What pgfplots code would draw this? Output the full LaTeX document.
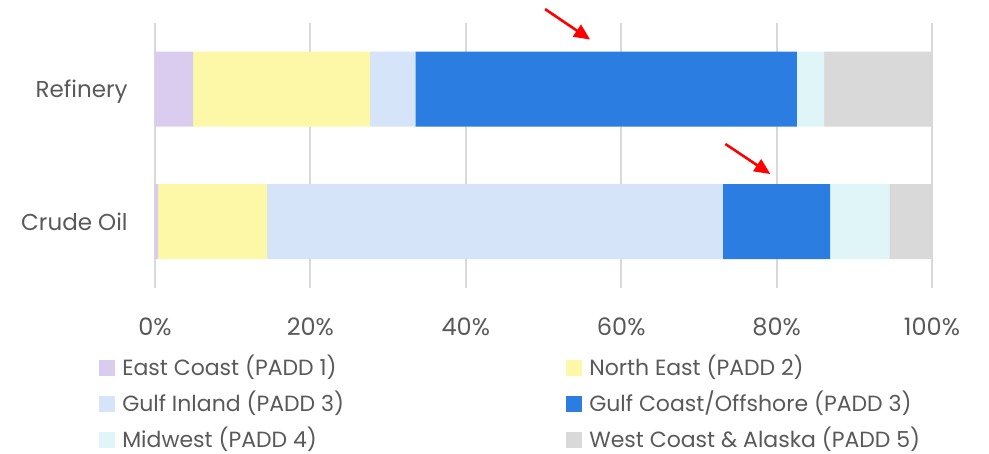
\documentclass[border=0pt]{standalone}
\usepackage{pgfplots}
\pgfplotsset{compat=1.18}
\usepackage{fontspec}
\setmainfont{Poppins}
\usetikzlibrary{arrows.meta}
\definecolor{txt}{RGB}{89,89,89}
\definecolor{grid}{RGB}{217,217,217}
\definecolor{cEC}{RGB}{217,204,238}
\definecolor{cNE}{RGB}{253,248,168}
\definecolor{cGI}{RGB}{213,228,248}
\definecolor{cGC}{RGB}{43,125,225}
\definecolor{cMW}{RGB}{223,245,247}
\definecolor{cWC}{RGB}{217,217,217}
\begin{document}
\begin{tikzpicture}
\begin{axis}[
  scale only axis, width=388.5pt, height=132.5pt,
  xbar stacked, bar width=37.5pt,
  xmin=0, xmax=100, ymin=-0.5, ymax=1.5,
  axis line style={draw=none},
  clip=false,
  xtick={0,20,40,60,80,100},
  ytick={0,1}, yticklabels={Crude Oil,Refinery},
  major tick length=0pt,
  xmajorgrids, ymajorgrids=false, major grid style={draw=grid, line width=1pt},
  /pgf/number format/assume math mode=true,
  xticklabel={\pgfmathprintnumber{\tick}\%},
  ticklabel style={font=\fontsize{12}{14}\selectfont, text=txt, inner sep=0pt},
  xticklabel style={anchor=north, yshift=-14.5pt},
  yticklabel style={anchor=east, xshift=-13.5pt, text height=8.3pt, text depth=0pt, font=\fontsize{11.5}{14}\selectfont},
  legend columns=2,
  legend cell align=left,
  legend image code/.code={\fill[#1] (0pt,-4pt) rectangle (8pt,4pt); \path (11.5pt,0pt);},
  legend style={draw=none, fill=none, inner sep=0pt, outer sep=0pt,
    at={(-0.0717,-0.272)}, anchor=north west,
    font=\fontsize{11}{13}\selectfont, text=txt,
    nodes={inner sep=0pt, text height=7.7pt, text depth=0pt},
    row sep=10pt, column sep=0pt},
]
\addplot[fill=cEC, draw=none] coordinates {(0.4,0) (4.9,1)};
\addlegendentry{\makebox[222pt][l]{East Coast (PADD 1)}}
\addplot[fill=cNE, draw=none] coordinates {(14.0,0) (22.8,1)};
\addlegendentry{North East (PADD 2)}
\addplot[fill=cGI, draw=none] coordinates {(58.7,0) (5.8,1)};
\addlegendentry{\makebox[222pt][l]{Gulf Inland (PADD 3)}}
\addplot[fill=cGC, draw=none] coordinates {(13.8,0) (49.1,1)};
\addlegendentry{Gulf Coast/Offshore (PADD 3)}
\addplot[fill=cMW, draw=none] coordinates {(7.6,0) (3.5,1)};
\addlegendentry{\makebox[222pt][l]{Midwest (PADD 4)}}
\addplot[fill=cWC, draw=none] coordinates {(5.5,0) (13.9,1)};
\addlegendentry{West Coast \& Alaska (PADD 5)}
\draw[red, line width=1.3pt, -{Triangle[length=8pt, width=7pt]}] (axis cs:50.2,1.605) -- (axis cs:56.0,1.375);
\draw[red, line width=1.3pt, -{Triangle[length=8pt, width=7pt]}] (axis cs:73.4,0.587) -- (axis cs:79.2,0.360);
\end{axis}
\pgfresetboundingbox
\path[use as bounding box] (-77.5pt,-83pt) rectangle (417pt,144pt);
\end{tikzpicture}
\end{document}
